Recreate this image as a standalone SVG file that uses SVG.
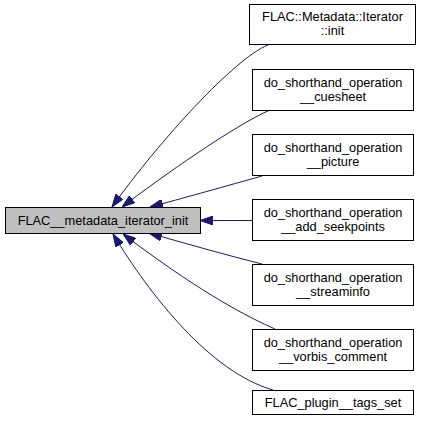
<svg xmlns="http://www.w3.org/2000/svg" width="421" height="429" viewBox="0 0 421 429">
<style>
.node rect{fill:#ffffff;stroke:#000000;stroke-width:1}
.node.main rect{fill:#bfbfbf}
.node text{font-family:"Liberation Sans",Arial,Helvetica,sans-serif;font-size:12.8px;fill:#000000;text-anchor:middle}
.edges path{fill:none;stroke:#191970;stroke-width:1}
</style>
<defs>
<marker id="arr" viewBox="0 0 13 9" refX="13" refY="4.5" markerWidth="13" markerHeight="9" markerUnits="userSpaceOnUse" orient="auto">
<path d="M0,0 L13,4.5 L0,9 z" fill="#191970" stroke="#191970" stroke-width="1"/>
</marker>
</defs>
<rect x="0" y="0" width="421" height="429" fill="#ffffff"/>
<g class="edges">
<path marker-end="url(#arr)" d="M268,45 C235,58 160,140 112,207"/>
<path marker-end="url(#arr)" d="M270,110 C235,125 160,178 122,207"/>
<path marker-end="url(#arr)" d="M262,176 C230,185 180,199 150,207"/>
<path marker-end="url(#arr)" d="M252,220.5 L200,220.5"/>
<path marker-end="url(#arr)" d="M262,264 C230,256 180,242 149,233"/>
<path marker-end="url(#arr)" d="M275,329 C220,305 160,262 123,234"/>
<path marker-end="url(#arr)" d="M273,390 C210,372 150,295 113,234"/>
</g>
<g id="node_main" class="node main">
<rect x="5.5" y="207.5" width="195" height="26"/>
<text x="103" y="225">FLAC__metadata_iterator_init</text>
</g>
<g id="node_iter_init" class="node">
<rect x="249.5" y="4.5" width="166" height="40"/>
<text x="332.5" y="21">FLAC::Metadata::Iterator</text>
<text x="332.5" y="35">::init</text>
</g>
<g id="node_cuesheet" class="node">
<rect x="252.5" y="69.5" width="161" height="41"/>
<text x="333" y="87">do_shorthand_operation</text>
<text x="333" y="101">__cuesheet</text>
</g>
<g id="node_picture" class="node">
<rect x="252.5" y="134.5" width="161" height="41"/>
<text x="333" y="152">do_shorthand_operation</text>
<text x="333" y="166">__picture</text>
</g>
<g id="node_seekpoints" class="node">
<rect x="252.5" y="199.5" width="161" height="41"/>
<text x="333" y="217">do_shorthand_operation</text>
<text x="333" y="231">__add_seekpoints</text>
</g>
<g id="node_streaminfo" class="node">
<rect x="252.5" y="264.5" width="161" height="41"/>
<text x="333" y="282">do_shorthand_operation</text>
<text x="333" y="296">__streaminfo</text>
</g>
<g id="node_vorbis" class="node">
<rect x="252.5" y="329.5" width="161" height="41"/>
<text x="333" y="347">do_shorthand_operation</text>
<text x="333" y="361">__vorbis_comment</text>
</g>
<g id="node_tags_set" class="node">
<rect x="252.5" y="390.5" width="161" height="24"/>
<text x="333" y="407">FLAC_plugin__tags_set</text>
</g>
</svg>
